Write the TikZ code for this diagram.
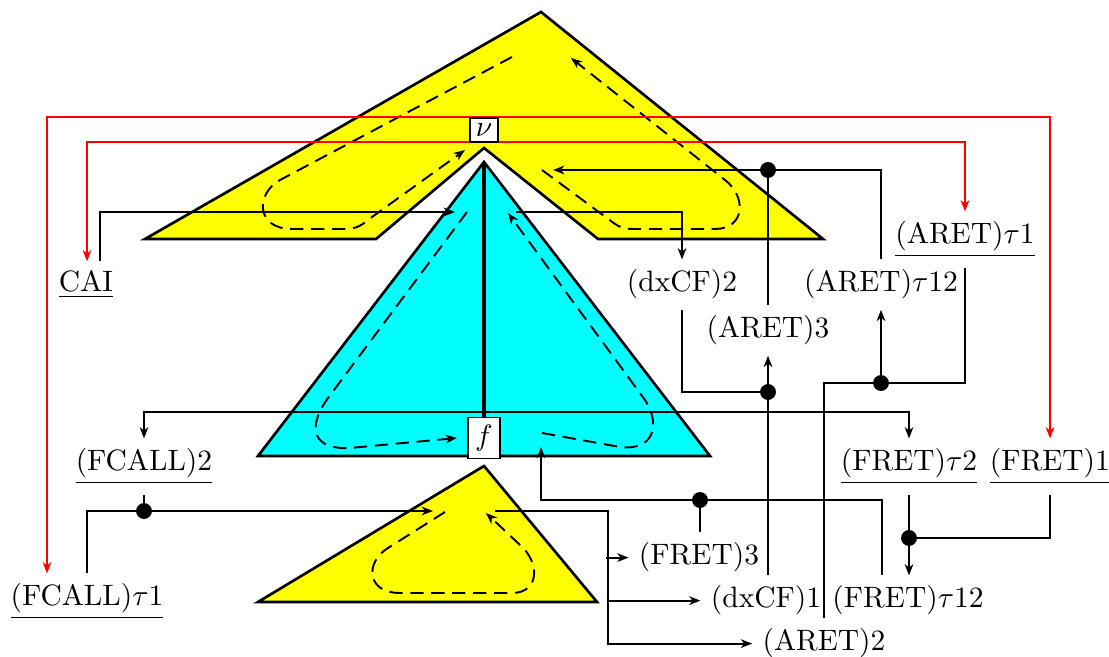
\documentclass[tikz,border=0pt]{standalone}
\usetikzlibrary{calc,arrows.meta}
\definecolor{triyellow}{RGB}{255,255,0}
\definecolor{tricyan}{RGB}{0,255,255}
\tikzset{
  >={Stealth[length=3.8pt, width=2.9pt, inset=1.1pt]},
  region/.style={draw=black, line width=0.9pt, line join=miter},
  walk/.style={draw=black, line width=0.65pt, dash pattern=on 4.5pt off 2.6pt, ->},
  conn/.style={draw=black, line width=0.7pt},
  callret/.style={draw=red, line width=0.6pt, <->},
  lbl/.style={anchor=base, inner sep=3.33pt},
  point/.style={draw=black, fill=white, line width=0.6pt, inner sep=2pt, minimum width=9.5pt},
  joint/.style={fill=black},
}
\begin{document}
\begin{tikzpicture}[x=0.339pt, y=-0.339pt]
\useasboundingbox (0,0) rectangle (1109,657);

% regions
\fill[triyellow] (541,12) -- (823,239) -- (598,239) -- (484,148) -- (376,239) -- (145,239) -- cycle;
\draw[region] (541,12) -- (823,239) -- (598,239) -- (484,148) -- (376,239) -- (145,239) -- cycle;
\draw[region, fill=tricyan] (484,162) -- (710,456) -- (258,456) -- cycle;
\draw[region, fill=triyellow] (484,466) -- (597,602) -- (258,602) -- cycle;

% traversal walks
\draw[walk] (512,57) -- (280,180) .. controls (255,194) and (256,229) .. (292,229) -- (345,229) .. controls (358,229) and (363,224) .. (372,217) -- (465,150);
\draw[walk] (542,170) -- (615,224) .. controls (621,228) and (625,229) .. (635,229) -- (715,229) .. controls (745,229) and (747,197) .. (725,180) -- (571,58);
\draw[walk] (467,212) -- (328,398) .. controls (305,430) and (315,450) .. (350,448) -- (457,438);
\draw[walk] (542,433) -- (620,447) .. controls (652,451) and (662,427) .. (645,400) -- (508,213);
\draw[walk] (445,512) -- (388,548) .. controls (365,562) and (366,593) .. (400,593) -- (512,593) .. controls (540,593) and (540,562) .. (520,545) -- (486,513);

% labels
\node[lbl] (cai) at (86,292) {$\underline{\mathrm{CAI}}$};
\node[lbl] (aret1) at (965,244) {$\underline{(\mathrm{ARET})\tau1}$};
\node[lbl] (dxcf2) at (682,292) {(dxCF)2};
\node[lbl] (aret12) at (881,292) {(ARET)$\tau$12};
\node[lbl] (aret3) at (768,338) {(ARET)3};
\node[lbl] (fcall2) at (144,471) {$\underline{(\mathrm{FCALL})2}$};
\node[lbl] (fret2) at (909,471) {$\underline{(\mathrm{FRET})\tau2}$};
\node[lbl] (fret1) at (1050,471) {$\underline{(\mathrm{FRET})1}$};
\node[lbl] (fcallt1) at (87,606) {$\underline{(\mathrm{FCALL})\tau1}$};
\node[lbl] (fret3) at (699,565) {(FRET)3};
\node[lbl] (dxcf1) at (766,608) {(dxCF)1};
\node[lbl] (fret12) at (908,608) {(FRET)$\tau$12};
\node[lbl] (aret2) at (824,651) {(ARET)2};

% free ends and junctions
\coordinate (rO) at (47,117);
\coordinate (rI) at (87,142);
\coordinate (inL) at (455,212);
\coordinate (outR) at (516,212);
\coordinate (inR) at (553,170);
\coordinate (J1) at (768,170);
\coordinate (J2) at (768,392);
\coordinate (J3) at (881,383);
\coordinate (hf) at (0,412);
\coordinate (J4) at (144,511);
\coordinate (inB) at (433,511);
\coordinate (outB) at (495,511);
\coordinate (V) at (608,511);
\coordinate (J5) at (700,500);
\coordinate (inF) at (541,447);
\coordinate (J6) at (909,538);
\coordinate (apex) at (484,162);

% call / return pairs
\draw[callret] (fcallt1.north -| rO) -- (rO) -- (rO -| fret1.north) -- (fret1.north);
\draw[callret] (cai.north -| rI) -- (rI) -- (rI -| aret1.north) -- (aret1.north);

% top region connectors
\draw[conn,->] ($(cai.north)+(14,0)$) |- (inL);
\draw[conn,->] (outR) -| (dxcf2.north);
\draw[conn,->] (aret12.north) |- (inR);
\draw[conn] (J1 |- aret3.north) -- (J1);
\draw[conn] (dxcf2.south) |- (J2);
\draw[conn,->] (J2) -- (J2 |- aret3.south);
\draw[conn] (J2 |- dxcf1.north) -- (J2);
\draw[conn] (aret1.south) |- (J3);
\draw[conn,->] (J3) -- (J3 |- aret12.south);
\draw[conn] (aret2.north) |- (J3);

% function call / return
\draw[conn,<->] (fcall2.north) -- (fcall2.north |- hf) -- (fret2.north |- hf) -- (fret2.north);
\draw[conn] (fcall2.south) -- (J4);
\draw[conn,->] (fcallt1.north) |- (inB);
\draw[conn,->] (outB) -| (V |- aret2.west) -- (aret2.west);
\draw[conn,->] ($(V |- fret3.west)+(-2,0)$) -- (fret3.west);
\draw[conn,->] (V |- dxcf1.west) -- (dxcf1.west);
\draw[conn] (J5 |- fret3.north) -- (J5);
\draw[conn,->] (J5) -| (inF);
\draw[conn] (J5) -| ($(fret12.north)+(-26,0)$);
\draw[conn] (fret2.south) -- (J6);
\draw[conn,->] (J6) -- (J6 |- fret12.north);
\draw[conn] (fret1.south) |- (J6);

% junction dots
\foreach \j in {J1,J2,J3,J4,J5,J6} \fill[joint] (\j) circle[radius=2.7pt];

% points of the tree
\node[point, minimum height=8.3pt] (nu) at (484,130) {$\nu$};
\node[point, inner sep=2.5pt, minimum height=13.9pt] (fbox) at (484,438) {$f$};
\draw[line width=1.6pt] (apex) -- (fbox.north);
\end{tikzpicture}
\end{document}
